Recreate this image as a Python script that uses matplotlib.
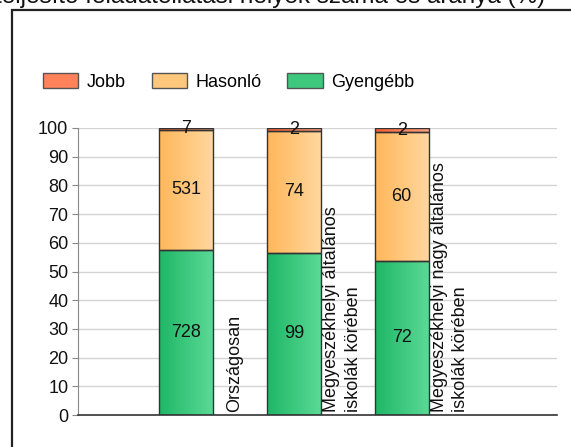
import numpy as np
import matplotlib
matplotlib.use('Agg')
import matplotlib.pyplot as plt
from matplotlib.patches import Rectangle, Patch

plt.rcParams['font.family'] = ['Liberation Sans', 'DejaVu Sans']

# === DATA ===
categories = ['Országosan',
              'Megyeszékhelyi általános\niskolák körében',
              'Megyeszékhelyi nagy általános\niskolák körében']
gyengebb = [728, 99, 72]
hasonlo = [531, 74, 60]
jobb = [7, 2, 2]
series_names = ['Jobb', 'Hasonló', 'Gyengébb']
title = 'teljesítő feladatellátási helyek száma és aránya (%)'

# colours (left -> right gradient)
col_green = ('#1fb766', '#5ad996')
col_orange = ('#ffb75a', '#ffd79e')
col_red = ('#ff6030', '#ffa385')

counts = np.array([gyengebb, hasonlo, jobb], dtype=float)
totals = counts.sum(axis=0)
pct = counts / totals * 100

fig = plt.figure(figsize=(5.71, 4.47), dpi=100)
ax = fig.add_axes([78 / 571, 1 - 415 / 447, (557 - 78) / 571, (415 - 128) / 447])

x = np.arange(len(categories))
width = 0.5
FS = 13


def grad_bar(xc, bottom, h, cols):
    bar = ax.bar(xc, h, width, bottom=bottom, color='none',
                 edgecolor='#333333', linewidth=1, zorder=3)[0]
    c0 = np.array(matplotlib.colors.to_rgb(cols[0]))
    c1 = np.array(matplotlib.colors.to_rgb(cols[1]))
    t = np.linspace(0, 1, 64)[None, :, None]
    img = c0 + (c1 - c0) * t
    im = ax.imshow(img, extent=[xc - width / 2, xc + width / 2, bottom, bottom + h],
                   aspect='auto', zorder=2, interpolation='bilinear')
    im.set_clip_path(bar)
    return bar


bottoms = np.zeros(len(categories))
for vals, nums, cols in zip(pct, counts, [col_green, col_orange, col_red]):
    for i in range(len(categories)):
        grad_bar(x[i], bottoms[i], vals[i], cols)
        ax.text(x[i], bottoms[i] + vals[i] / 2, '%d' % nums[i], ha='center',
                va='center', fontsize=FS, color='#111111', zorder=5)
    bottoms += vals

# category labels, rotated next to the bars
for i, lab in enumerate(categories):
    ax.text(x[i] + 0.45, 0.9, lab, rotation=90, ha='center', va='bottom',
            multialignment='left', fontsize=FS, color='#111111',
            linespacing=1.35, zorder=5)

ax.set_xlim(-1, 3.44)
ax.set_ylim(0, 100)
ax.set_yticks(np.arange(0, 101, 10))
ax.set_xticks([])
ax.tick_params(axis='y', labelsize=FS, length=4, color='#888888', pad=3,
               labelcolor='#111111')
ax.grid(axis='y', color='#d4d4d4', linewidth=1, zorder=0)
ax.set_axisbelow(True)
for s in ['top', 'right']:
    ax.spines[s].set_visible(False)
ax.spines['left'].set_color('#888888')
ax.spines['bottom'].set_color('#333333')
ax.spines['bottom'].set_linewidth(1.2)

# legend
handles = []
for c, n in zip([col_red, col_orange, col_green], series_names):
    mid = np.mean([matplotlib.colors.to_rgb(c[0]), matplotlib.colors.to_rgb(c[1])], axis=0)
    handles.append(Patch(facecolor=mid, edgecolor='#555555', label=n))
fig.legend(handles=handles, loc='upper left', bbox_to_anchor=(27 / 571, 1 - 57 / 447),
           ncol=3, frameon=False, fontsize=FS, handlelength=1.95, handleheight=0.85,
           handletextpad=0.45, columnspacing=1.45)

# outer frame (cut off at the right and bottom)
fig.patches.append(Rectangle((11.5 / 571, -0.1), 1.2, 1 - 9.5 / 447 + 0.1,
                             transform=fig.transFigure, fill=False,
                             edgecolor='#222222', linewidth=1.6))

# title, only its lower part visible
fig.text(545 / 571, 1 - 3 / 447, title, ha='right', va='baseline', fontsize=17.5,
         color='#111111')

fig.savefig('out.png', dpi=100)
